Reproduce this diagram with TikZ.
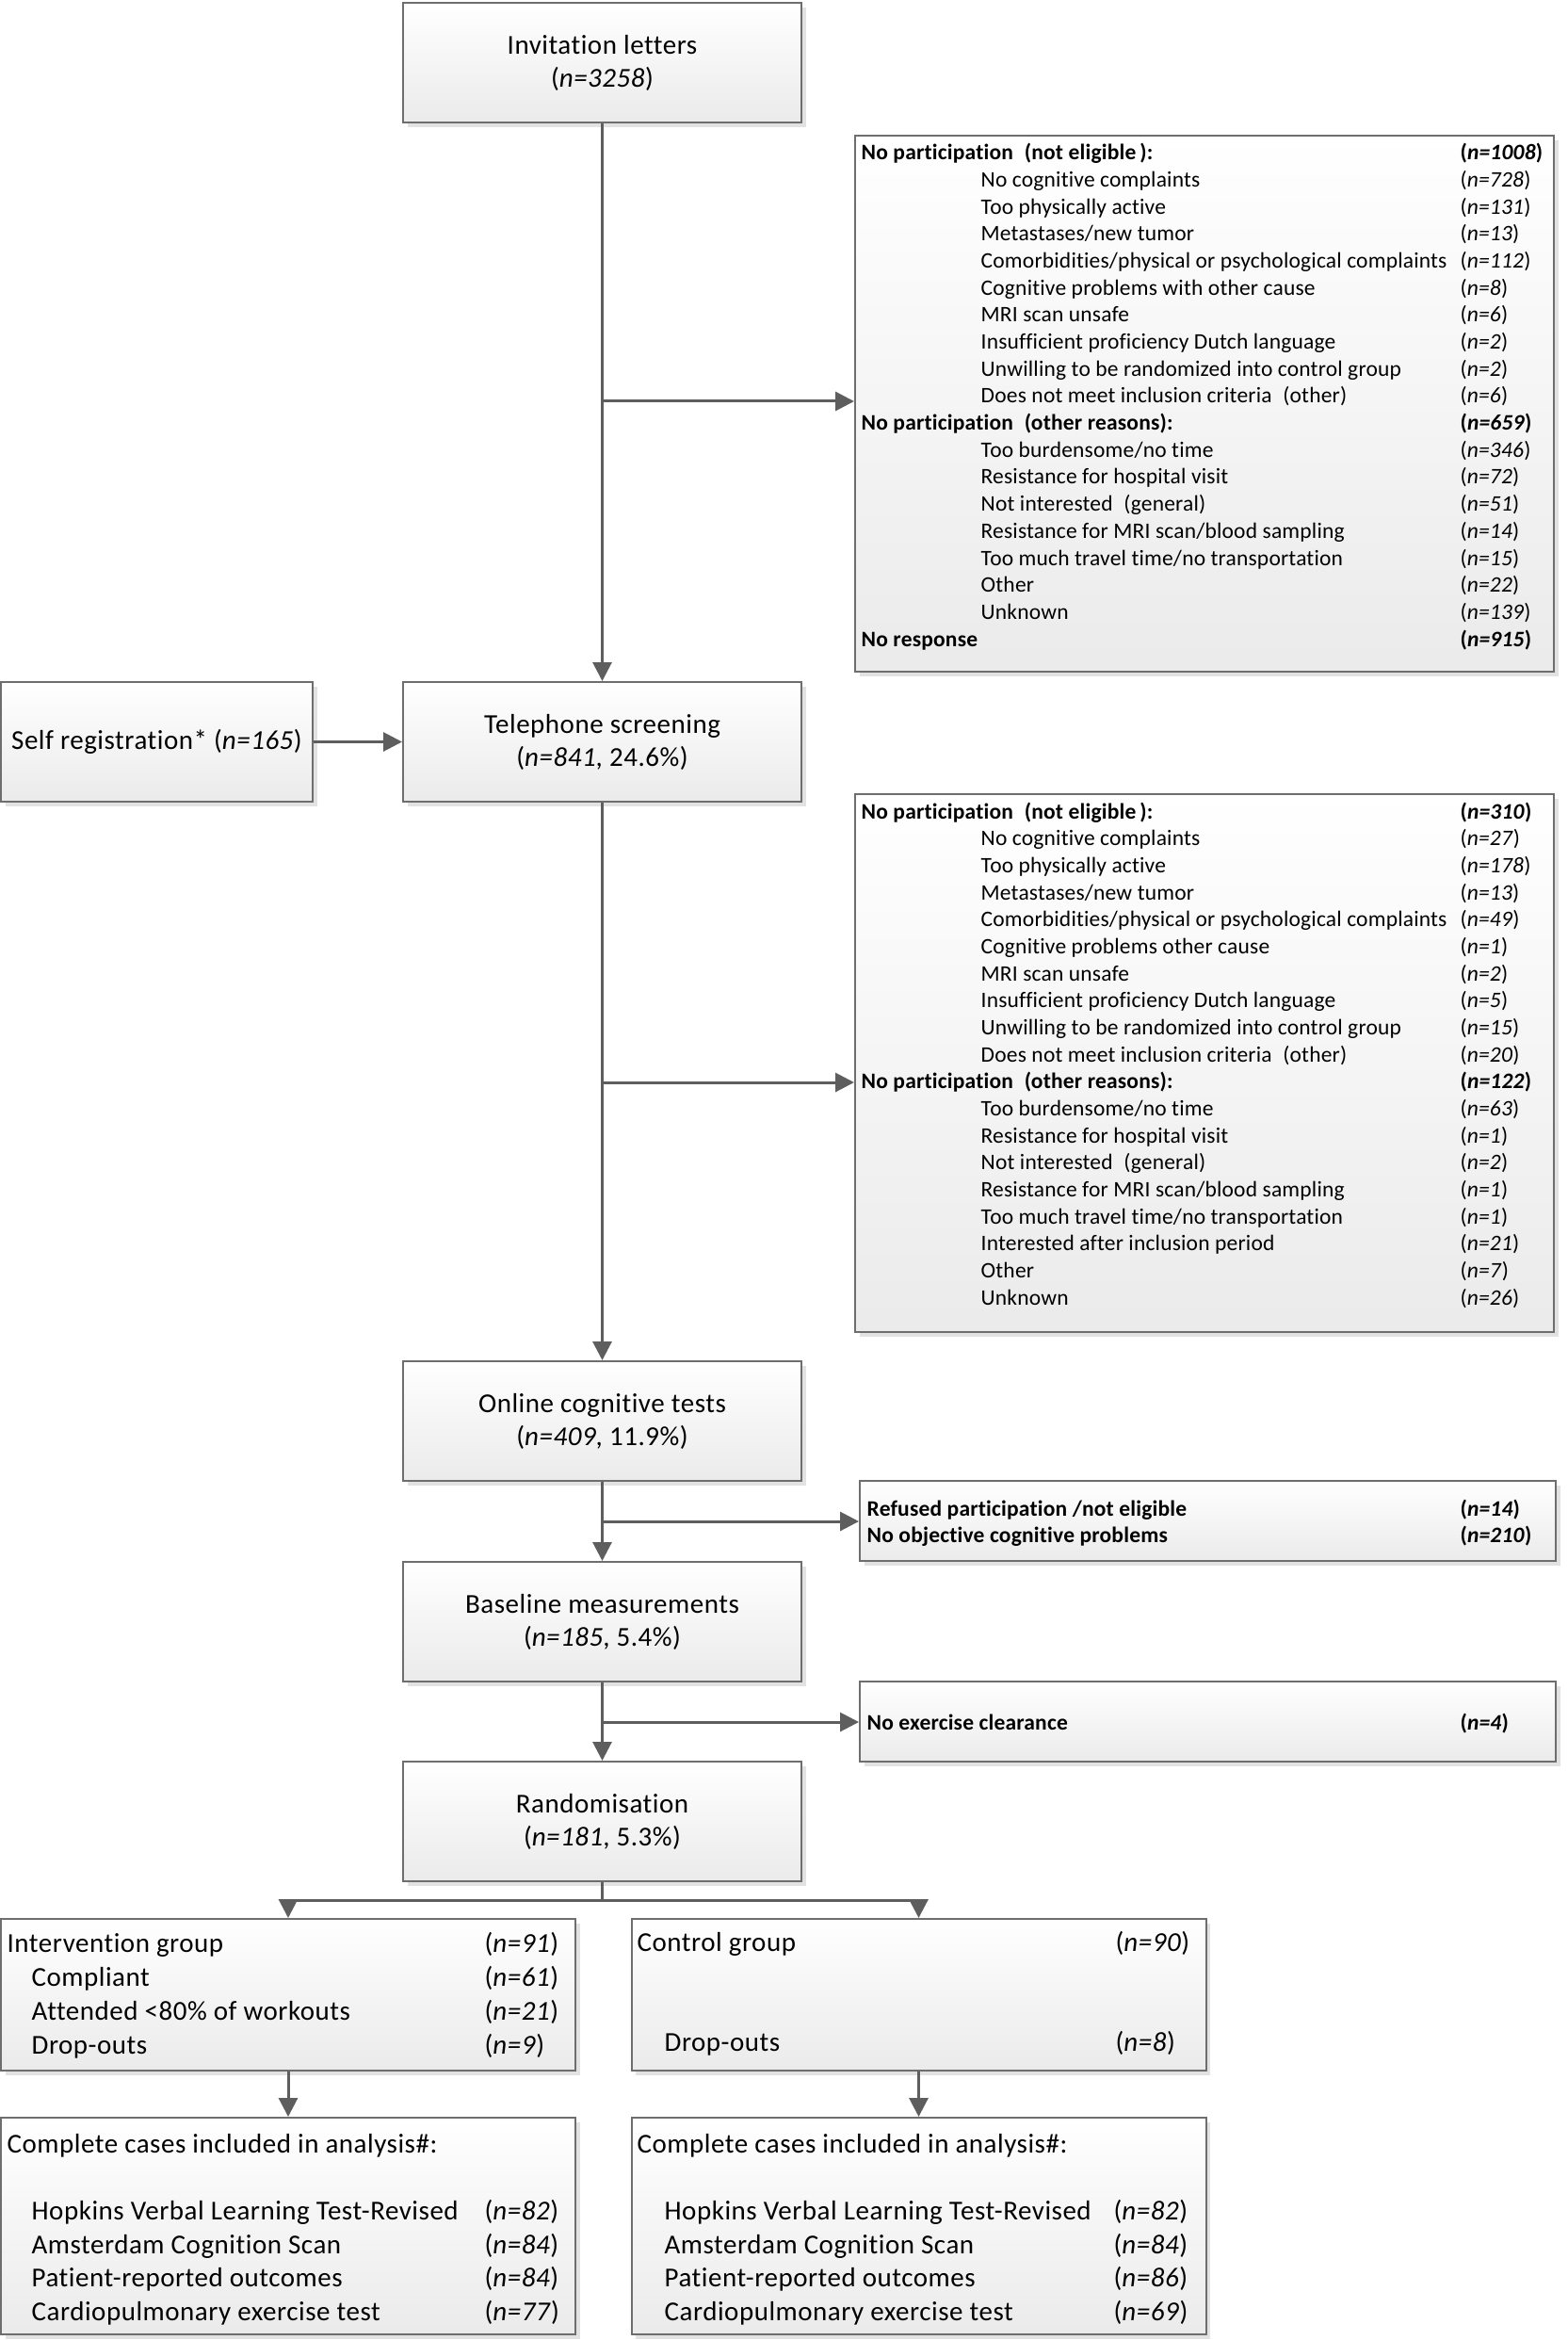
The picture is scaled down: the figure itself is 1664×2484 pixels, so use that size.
\documentclass[tikz,border=0pt]{standalone}
\usepackage{fontspec}
\setmainfont{Carlito}[Ligatures=NoCommon]
\newfontfamily\bigfam{Carlito}[LetterSpace=1.8,Ligatures=NoCommon]
\newfontfamily\lstfam{Carlito}[LetterSpace=0.8,Ligatures=NoCommon]
\usetikzlibrary{shadows,arrows.meta}
\definecolor{lncol}{HTML}{5E5E5E}
\definecolor{bdcol}{HTML}{6E6E6E}
\definecolor{shcol}{HTML}{E2E2E2}
\newcommand\bigf{\bigfam\fontsize{8.7pt}{10.5pt}\selectfont}
\newcommand\lstf{\lstfam\fontsize{7.05pt}{8.6pt}\selectfont}
\tikzset{
  box/.style={rectangle, draw=bdcol, line width=0.6pt, top color=white, bottom color=black!8,
    inner sep=0pt, align=center, font=\bigf,
    drop shadow={shadow xshift=1.4pt, shadow yshift=-1.4pt, fill=shcol, opacity=1}},
  mainbox/.style={box, minimum width=126.9pt, minimum height=38.1pt},
  listbox/.style={box, minimum width=222.6pt},
  grpbox/.style={box, minimum width=183pt},
  conn/.style={draw=lncol, line width=0.9pt},
  arr/.style={conn, -{Triangle[width=6pt,length=6pt]}},
  lsttxt/.style={anchor=base west, inner sep=0pt, font=\lstf},
  grptxt/.style={anchor=base west, inner sep=0pt, font=\bigf},
}
\newcommand\hrow[4]{%
  \node[lsttxt,font=\lstf\bfseries] (#1) at (914,{#2+8}) {#3};
  \node[lsttxt,font=\lstf\bfseries] (#1n) at (1550,{#2+8}) {(\textit{n=#4})};}
\newcommand\srow[4]{%
  \node[lsttxt] (#1) at (1041,{#2+8}) {#3};
  \node[lsttxt] (#1n) at (1550,{#2+8}) {(\textit{n=#4})};}
\newcommand\brow[4]{%
  \node[lsttxt,font=\lstf\bfseries] (#1) at (920,{#2+8}) {#3};
  \node[lsttxt,font=\lstf\bfseries] (#1n) at (1550,{#2+8}) {(\textit{n=#4})};}
\newcommand\grow[6]{%
  \node[grptxt] (#1) at (#2,{#4+9.5}) {#5};
  \node[grptxt] (#1n) at (#3,{#4+9.5}) {(\textit{n=#6})};}
\newcommand\gtitle[4]{%
  \node[grptxt] (#1) at (#2,{#3+9.5}) {#4};}

\begin{document}
\begin{tikzpicture}[x=0.3pt,y=-0.3pt]
\fill[white] (0,0) rectangle (1664,2484);
\useasboundingbox (0,0) rectangle (1664,2484);

% main boxes
\node[mainbox] (inv) at (639.5,66.5) {Invitation letters\\(\textit{n=3258})};
\node[mainbox] (tel) at (639.5,787.5) {Telephone screening\\(\textit{n=841}, 24.6\%)};
\node[box, minimum width=99.3pt, minimum height=38.1pt] (self) at (166.5,787.5) {Self registration* (\textit{n=165})};
\node[mainbox] (onl) at (639.5,1508.5) {Online cognitive tests\\(\textit{n=409}, 11.9\%)};
\node[mainbox] (base) at (639.5,1721.5) {Baseline measurements\\(\textit{n=185}, 5.4\%)};
\node[mainbox] (rand) at (639.5,1933.5) {Randomisation\\(\textit{n=181}, 5.3\%)};

% exclusion boxes
\node[listbox, minimum height=170.7pt] (ex1) at (1279,428.5) {};
\node[listbox, minimum height=171.3pt] (ex2) at (1279,1128.5) {};
\node[box, minimum width=221.7pt, minimum height=25.5pt] (ex3) at (1282.5,1614.5) {};
\node[box, minimum width=221.7pt, minimum height=25.5pt] (ex4) at (1282.5,1827.5) {};

% group boxes
\node[grpbox, minimum height=48.3pt] (intv) at (306,2117.5) {};
\node[grpbox, minimum height=48.3pt] (ctrl) at (975.5,2117.5) {};
\node[grpbox, minimum height=69pt] (compI) at (306,2363) {};
\node[grpbox, minimum height=69pt] (compC) at (975.5,2363) {};

% list 1
\hrow{a0}{162}{No participation\enspace(not eligible\,):}{1008}
\srow{a1}{190.7}{No cognitive complaints}{728}
\srow{a2}{219.3}{Too physically active}{131}
\srow{a3}{248}{Metastases/new tumor}{13}
\srow{a4}{276.7}{Comorbidities/physical or psychological complaints}{112}
\srow{a5}{305.3}{Cognitive problems with other cause}{8}
\srow{a6}{334}{MRI scan unsafe}{6}
\srow{a7}{362.7}{Insufficient proficiency Dutch language}{2}
\srow{a8}{391.3}{Unwilling to be randomized into control group}{2}
\srow{a9}{420}{Does not meet inclusion criteria\enspace(other)}{6}
\hrow{a10}{448.7}{No participation\enspace(other reasons):}{659}
\srow{a11}{477.3}{Too burdensome/no time}{346}
\srow{a12}{506}{Resistance for hospital visit}{72}
\srow{a13}{534.7}{Not interested\enspace(general)}{51}
\srow{a14}{563.3}{Resistance for MRI scan/blood sampling}{14}
\srow{a15}{592}{Too much travel time/no transportation}{15}
\srow{a16}{620.7}{Other}{22}
\srow{a17}{649.3}{Unknown}{139}
\hrow{a18}{678}{No response}{915}

% list 2
\hrow{b0}{861}{No participation\enspace(not eligible\,):}{310}
\srow{b1}{889.7}{No cognitive complaints}{27}
\srow{b2}{918.3}{Too physically active}{178}
\srow{b3}{947}{Metastases/new tumor}{13}
\srow{b4}{975.7}{Comorbidities/physical or psychological complaints}{49}
\srow{b5}{1004.3}{Cognitive problems other cause}{1}
\srow{b6}{1033}{MRI scan unsafe}{2}
\srow{b7}{1061.7}{Insufficient proficiency Dutch language}{5}
\srow{b8}{1090.3}{Unwilling to be randomized into control group}{15}
\srow{b9}{1119}{Does not meet inclusion criteria\enspace(other)}{20}
\hrow{b10}{1147.7}{No participation\enspace(other reasons):}{122}
\srow{b11}{1176.3}{Too burdensome/no time}{63}
\srow{b12}{1205}{Resistance for hospital visit}{1}
\srow{b13}{1233.7}{Not interested\enspace(general)}{2}
\srow{b14}{1262.3}{Resistance for MRI scan/blood sampling}{1}
\srow{b15}{1291}{Too much travel time/no transportation}{1}
\srow{b16}{1319.7}{Interested after inclusion period}{21}
\srow{b17}{1348.3}{Other}{7}
\srow{b18}{1377}{Unknown}{26}

% list 3 and 4
\brow{c1}{1601}{Refused participation /not eligible}{14}
\brow{c2}{1629}{No objective cognitive problems}{210}
\brow{d1}{1828}{No exercise clearance}{4}

% group texts
\grow{g1}{7}{514}{2063}{Intervention group}{91}
\grow{g2}{33}{514}{2099}{Compliant}{61}
\grow{g3}{33}{514}{2135}{Attended <80\% of workouts}{21}
\grow{g4}{33}{514}{2171}{Drop-outs}{9}
\grow{h1}{676}{1184}{2062}{Control group}{90}
\grow{h2}{705}{1184}{2168}{Drop-outs}{8}

\gtitle{k0}{7}{2276}{Complete cases included in analysis\#:}
\grow{k1}{33}{514}{2347}{Hopkins Verbal Learning Test-Revised}{82}
\grow{k2}{33}{514}{2383}{Amsterdam Cognition Scan}{84}
\grow{k3}{33}{514}{2418}{Patient-reported outcomes}{84}
\grow{k4}{33}{514}{2454}{Cardiopulmonary exercise test}{77}
\gtitle{m0}{676}{2276}{Complete cases included in analysis\#:}
\grow{m1}{705}{1182}{2347}{Hopkins Verbal Learning Test-Revised}{82}
\grow{m2}{705}{1182}{2383}{Amsterdam Cognition Scan}{84}
\grow{m3}{705}{1182}{2418}{Patient-reported outcomes}{86}
\grow{m4}{705}{1182}{2454}{Cardiopulmonary exercise test}{69}

% connectors
\coordinate (br1) at (639.5,426);
\coordinate (br2) at (639.5,1149);
\coordinate (br3) at (639.5,1615);
\coordinate (br4) at (639.5,1828);
\coordinate (sp) at (639.5,2017);
\draw[arr] (inv.south) -- (tel.north);
\draw[arr] (br1) -- (br1 -| ex1.west);
\draw[arr] (self.east) -- (tel.west);
\draw[arr] (tel.south) -- (onl.north);
\draw[arr] (br2) -- (br2 -| ex2.west);
\draw[arr] (onl.south) -- (base.north);
\draw[arr] (br3) -- (br3 -| ex3.west);
\draw[arr] (base.south) -- (rand.north);
\draw[arr] (br4) -- (br4 -| ex4.west);
\draw[arr] (rand.south) -- (sp) -| (intv.north);
\draw[arr] (sp) -| (ctrl.north);
\draw[arr] (intv.south) -- (compI.north);
\draw[arr] (ctrl.south) -- (compC.north);
\end{tikzpicture}
\end{document}
